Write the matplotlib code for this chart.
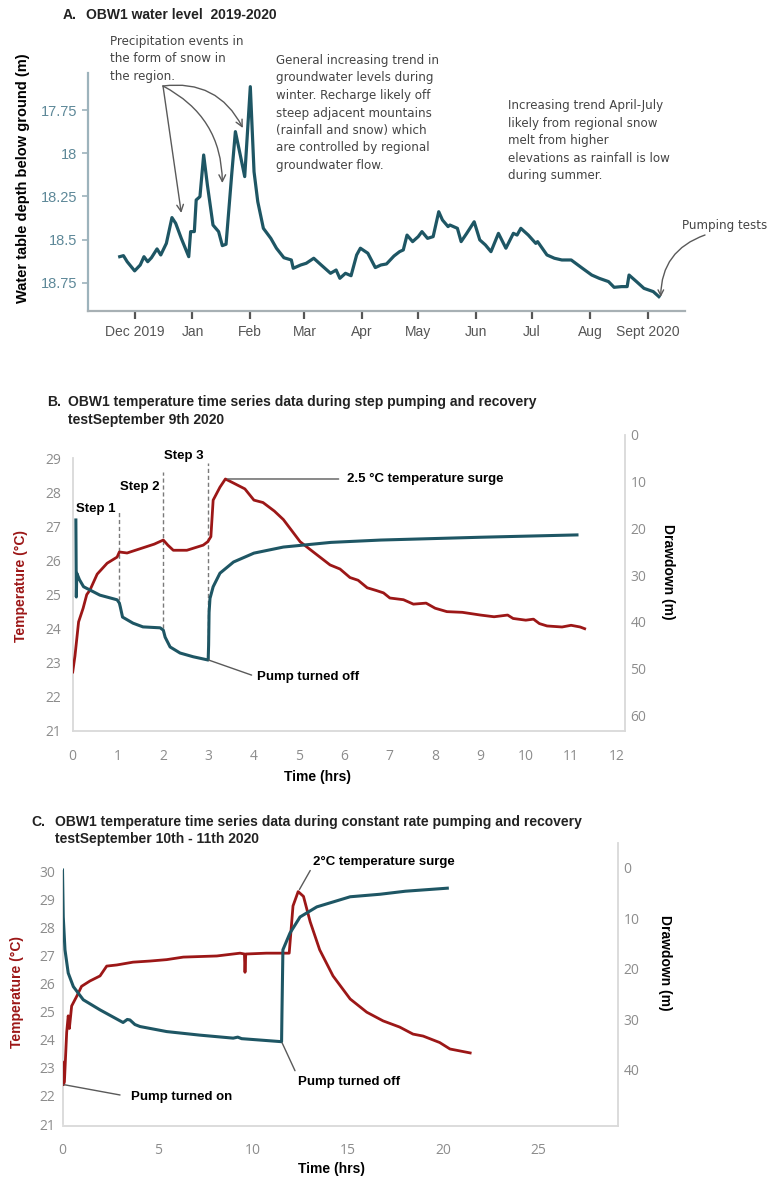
import pandas as pd
import matplotlib.pyplot as plt

# ---------------- data ----------------
# A: water table depth below ground (m)
level_dates = [
    '2019-11-23', '2019-11-25', '2019-11-27',
    '2019-12-01', '2019-12-04', '2019-12-06', '2019-12-08', '2019-12-10', '2019-12-13',
    '2019-12-15', '2019-12-18', '2019-12-21', '2019-12-23', '2019-12-26', '2019-12-30', '2019-12-31',
    '2020-01-02', '2020-01-03', '2020-01-05', '2020-01-07', '2020-01-09', '2020-01-12',
    '2020-01-15', '2020-01-17', '2020-01-19', '2020-01-22', '2020-01-24', '2020-01-27', '2020-01-29',
    '2020-02-01', '2020-02-03', '2020-02-05', '2020-02-08', '2020-02-12', '2020-02-15',
    '2020-02-19', '2020-02-23', '2020-02-24', '2020-02-28',
    '2020-03-02', '2020-03-06', '2020-03-10', '2020-03-15', '2020-03-18', '2020-03-20',
    '2020-03-23', '2020-03-26', '2020-03-29', '2020-03-31',
    '2020-04-04', '2020-04-08', '2020-04-11', '2020-04-14', '2020-04-18', '2020-04-21',
    '2020-04-23', '2020-04-25', '2020-04-28',
    '2020-05-01', '2020-05-03', '2020-05-06', '2020-05-09', '2020-05-12', '2020-05-14',
    '2020-05-17', '2020-05-18', '2020-05-22', '2020-05-24', '2020-05-27', '2020-05-31',
    '2020-06-03', '2020-06-06', '2020-06-09', '2020-06-13', '2020-06-17', '2020-06-21',
    '2020-06-23', '2020-06-25', '2020-06-29',
    '2020-07-03', '2020-07-04', '2020-07-09', '2020-07-13', '2020-07-17', '2020-07-22', '2020-07-28',
    '2020-08-02', '2020-08-06', '2020-08-11', '2020-08-14', '2020-08-18', '2020-08-21',
    '2020-08-22', '2020-08-26', '2020-08-30',
    '2020-09-04', '2020-09-07',
]
level_depth = [
    18.598, 18.592, 18.627,
    18.680, 18.646, 18.598, 18.627, 18.604, 18.553,
    18.588, 18.521, 18.372, 18.405, 18.492, 18.598, 18.453,
    18.453, 18.270, 18.251, 18.010, 18.184, 18.415,
    18.453, 18.534, 18.526, 18.126, 17.875, 18.030, 18.135,
    17.615, 18.107, 18.280, 18.434, 18.492, 18.549,
    18.604, 18.617, 18.665, 18.646,
    18.636, 18.607, 18.646, 18.694, 18.675, 18.723,
    18.694, 18.708, 18.588, 18.549,
    18.578, 18.661, 18.646, 18.640, 18.594, 18.569,
    18.559, 18.473, 18.511,
    18.482, 18.453, 18.492, 18.482, 18.338, 18.386,
    18.424, 18.415, 18.434, 18.511, 18.463, 18.396,
    18.501, 18.530, 18.569, 18.463, 18.549, 18.463,
    18.473, 18.434, 18.473,
    18.521, 18.511, 18.588, 18.607, 18.617, 18.617, 18.665,
    18.704, 18.723, 18.742, 18.775, 18.771, 18.771,
    18.704, 18.742, 18.781,
    18.800, 18.829,
]
month_ticks = ['2019-12-01', '2020-01-01', '2020-02-01', '2020-03-01', '2020-04-01',
               '2020-05-01', '2020-06-01', '2020-07-01', '2020-08-01', '2020-09-01']
month_labels = ['Dec 2019', 'Jan', 'Feb', 'Mar', 'Apr', 'May', 'Jun', 'Jul', 'Aug', 'Sept 2020']
depth_ticks = [17.75, 18.0, 18.25, 18.5, 18.75]
depth_labels = ['17.75', '18', '18.25', '18.5', '18.75']

# B: step test, temperature (degC) and drawdown (m) against time (hrs)
step_temp_t = [0.0, 0.05, 0.13, 0.23, 0.31, 0.38, 0.54, 0.76, 0.98, 1.03, 1.2, 1.5, 1.8, 2.0,
               2.1, 2.22, 2.52, 2.88, 2.98, 3.05, 3.1, 3.25, 3.37, 3.55, 3.8, 4.0, 4.2, 4.45,
               4.65, 5.02, 5.31, 5.68, 5.9, 6.12, 6.3, 6.5, 6.7, 6.86, 7.0, 7.3, 7.52, 7.8,
               8.0, 8.26, 8.6, 9.0, 9.3, 9.6, 9.72, 10.0, 10.17, 10.3, 10.47, 10.8, 11.0,
               11.2, 11.3]
step_temp = [22.73, 23.2, 24.2, 24.6, 25.0, 25.13, 25.6, 25.92, 26.1, 26.25, 26.22, 26.35,
             26.48, 26.6, 26.45, 26.3, 26.3, 26.45, 26.55, 26.7, 27.77, 28.15, 28.39, 28.27,
             28.1, 27.77, 27.7, 27.45, 27.2, 26.55, 26.25, 25.87, 25.75, 25.5, 25.42, 25.2,
             25.12, 25.05, 24.9, 24.85, 24.72, 24.75, 24.6, 24.5, 24.48, 24.4, 24.35, 24.4,
             24.3, 24.25, 24.28, 24.15, 24.08, 24.05, 24.1, 24.05, 24.0]
step_dd_t = [0.07, 0.08, 0.09, 0.15, 0.24, 0.6, 0.98, 1.03, 1.05, 1.1, 1.33, 1.55, 1.93, 2.0,
             2.04, 2.15, 2.37, 2.66, 2.99, 3.0, 3.01, 3.03, 3.1, 3.25, 3.55, 4.0, 4.65, 5.7,
             6.8, 9.0, 11.13]
step_dd = [18.2, 34.7, 29.6, 31.0, 32.5, 34.3, 35.3, 36.0, 36.8, 39.0, 40.3, 41.1, 41.3, 41.8,
           43.3, 45.4, 46.7, 47.5, 48.2, 45.0, 38.0, 35.0, 32.5, 29.6, 27.2, 25.3, 24.0, 23.0,
           22.5, 21.9, 21.4]
step_times = [1.03, 2.0, 2.99]
step_names = ['Step 1', 'Step 2', 'Step 3']
step_label_temp = [27.51, 28.16, 29.06]
step_line_top = [27.48, 28.6, 28.86]
step_line_bottom = [24.84, 24.02, 23.08]

# C: constant rate test
const_temp_t = [0.0, 0.05, 0.1, 0.22, 0.3, 0.36, 0.48, 0.75, 1.0, 1.44, 1.97, 2.32, 2.85, 3.7,
                4.6, 5.47, 6.34, 8.1, 9.32, 9.55, 9.58, 9.62, 10.7, 11.9, 11.95, 12.1, 12.37,
                12.65, 13.0, 13.5, 14.2, 15.1, 15.97, 16.83, 17.7, 18.4, 18.93, 19.8, 20.34,
                21.4]
const_temp = [23.2, 22.4, 22.5, 24.27, 24.85, 24.4, 25.2, 25.55, 25.9, 26.09, 26.27, 26.62,
              26.66, 26.76, 26.8, 26.85, 26.94, 26.98, 27.08, 27.05, 26.4, 27.05, 27.08, 27.08,
              27.5, 28.76, 29.27, 29.1, 28.2, 27.2, 26.27, 25.45, 24.98, 24.67, 24.45, 24.2,
              24.13, 23.9, 23.67, 23.53]
const_dd_t = [0.0, 0.04, 0.13, 0.3, 0.57, 1.09, 1.97, 3.18, 3.4, 3.54, 3.8, 4.07, 5.47, 7.2,
              8.96, 9.2, 9.4, 11.5, 11.52, 11.57, 11.94, 12.47, 13.35, 15.1, 16.67, 18.0, 20.2]
const_dd = [0.4, 9.7, 16.2, 20.8, 23.5, 26.1, 28.1, 30.6, 30.0, 30.1, 31.0, 31.4, 32.4, 33.1,
            33.7, 33.5, 33.8, 34.4, 28.7, 16.2, 12.9, 9.7, 7.7, 5.7, 5.2, 4.6, 4.0]

# ---------------- styling ----------------
W, H = 777, 1179
TEAL = '#1e5664'
RED = '#9c1717'
FRAME = '#d9d9d9'
TICK_GREY = '#8c8c8c'
NOTE = '#444444'
LINE = '#5a5a5a'
BOLD_FONT = 'Liberation Sans'


def fpos(x, y):
    """pixel position (from top-left) -> figure fraction"""
    return (x / W, 1 - y / H)


def axes_box(left, top, right, bottom):
    return [left / W, 1 - bottom / H, (right - left) / W, (bottom - top) / H]


def place_label(ax, axis, box, x, y):
    """put an axis label centred on a pixel position"""
    left, top, right, bottom = box
    lab = ax.xaxis if axis == 'x' else ax.yaxis
    lab.set_label_coords((x - left) / (right - left), (bottom - y) / (bottom - top))
    lab.label.set_va('center')
    lab.label.set_ha('center')


fig = plt.figure(figsize=(W / 100, H / 100), dpi=100)

# ================= A. water level =================
box_a = (88, 73, 685, 311)
ax_a = fig.add_axes(axes_box(*box_a))
ax_a.plot(pd.to_datetime(level_dates), level_depth, color=TEAL, lw=2.3,
          solid_joinstyle='round')
ax_a.set_xlim(pd.Timestamp('2019-11-06'), pd.Timestamp('2020-09-21'))
ax_a.set_ylim(18.912, 17.536)
ax_a.set_yticks(depth_ticks)
ax_a.set_yticklabels(depth_labels, fontsize=10.5, color='#5d8898', family=BOLD_FONT)
ax_a.set_xticks(pd.to_datetime(month_ticks))
ax_a.set_xticklabels(month_labels, fontsize=10, color='#555555', family=BOLD_FONT)
ax_a.tick_params(axis='y', length=4, width=1.2, color='#9db3bc', pad=4)
ax_a.tick_params(axis='x', length=6, width=1.6, color='#555555', pad=4)
for s in ['top', 'right']:
    ax_a.spines[s].set_visible(False)
ax_a.spines['left'].set_color('#9db3bc')
ax_a.spines['left'].set_linewidth(1.6)
ax_a.spines['bottom'].set_color('#a7b0b4')
ax_a.spines['bottom'].set_linewidth(1.6)
ax_a.set_ylabel('Water table depth below ground (m)', fontsize=10.5, fontweight='bold',
                family=BOLD_FONT)
place_label(ax_a, 'y', box_a, 23, 178)

fig.text(*fpos(63, 15), 'A.', fontsize=10, fontweight='bold', family=BOLD_FONT,
         va='center', color='#222222')
fig.text(*fpos(86, 15), 'OBW1 water level  2019-2020', fontsize=10, fontweight='bold',
         family=BOLD_FONT, va='center', color='#222222')

fig.text(*fpos(110, 35), 'Precipitation events in\nthe form of snow in\nthe region.',
         fontsize=8.6, color=NOTE, va='top', linespacing=1.45)
fig.text(*fpos(276, 54), 'General increasing trend in\ngroundwater levels during\n'
         'winter. Recharge likely off\nsteep adjacent mountains\n(rainfall and snow) which\n'
         'are controlled by regional\ngroundwater flow.',
         fontsize=8.6, color=NOTE, va='top', linespacing=1.45)
fig.text(*fpos(508, 99), 'Increasing trend April-July\nlikely from regional snow\n'
         'melt from higher\nelevations as rainfall is low\nduring summer.',
         fontsize=8.6, color=NOTE, va='top', linespacing=1.45)
fig.text(*fpos(682, 225), 'Pumping tests', fontsize=8.6, color=NOTE, va='center')

# arrows to the snow events
snow_targets = [('2019-12-26', 18.345, 0.0), ('2020-01-17', 18.172, -0.3),
                ('2020-01-28', 17.854, -0.35)]
for d, depth, rad in snow_targets:
    ax_a.annotate('', xy=(pd.Timestamp(d), depth), xytext=fpos(163, 86),
                  textcoords='figure fraction', annotation_clip=False,
                  arrowprops=dict(arrowstyle='->', color=LINE, lw=1.0,
                                  connectionstyle=f'arc3,rad={rad}',
                                  shrinkA=0, shrinkB=0, mutation_scale=12))
ax_a.annotate('', xy=(pd.Timestamp('2020-09-08'), 18.831), xytext=fpos(705, 235),
              textcoords='figure fraction', annotation_clip=False,
              arrowprops=dict(arrowstyle='->', color=LINE, lw=1.0,
                              connectionstyle='arc3,rad=0.35',
                              shrinkA=0, shrinkB=0, mutation_scale=10))


def excel_axes(box, xlim, ylim_left, ylim_right, left_bounds, xticks, yticks_left,
               yticks_right):
    ax = fig.add_axes(axes_box(*box))
    ax2 = ax.twinx()
    ax.set_xlim(*xlim)
    ax.set_ylim(*ylim_left)
    ax2.set_ylim(*ylim_right)
    ax.set_xticks(xticks)
    ax.set_yticks(yticks_left)
    ax2.set_yticks(yticks_right)
    for a in (ax, ax2):
        for s in a.spines.values():
            s.set_color(FRAME)
            s.set_linewidth(1.3)
        a.spines['top'].set_visible(False)
        a.tick_params(length=0, labelsize=10, labelcolor=TICK_GREY)
        for lab in a.get_xticklabels() + a.get_yticklabels():
            lab.set_family('Open Sans')
    ax.spines['right'].set_visible(False)
    ax2.spines['left'].set_visible(False)
    ax2.spines['bottom'].set_visible(False)
    ax.spines['left'].set_bounds(*left_bounds)
    ax.patch.set_visible(False)
    return ax, ax2


# ================= B. step test =================
box_b = (72.7, 435, 625, 731)
ax_b, ax_b2 = excel_axes(box_b, (0, 12.19), (21, 29.68), (63.4, 0),
                         (21, 29), range(0, 13), range(21, 30), range(0, 61, 10))
ax_b.tick_params(axis='x', pad=13)
ax_b.tick_params(axis='y', pad=8)
ax_b2.tick_params(axis='y', pad=4)
ax_b2.plot(step_dd_t, step_dd, color=TEAL, lw=2.2, zorder=2)
ax_b.plot(step_temp_t, step_temp, color=RED, lw=2.0, zorder=3)

for t, name, ly, top, bottom in zip(step_times, step_names, step_label_temp, step_line_top,
                                    step_line_bottom):
    ax_b.plot([t, t], [bottom, top], color='#7a7a7a', lw=1.0, ls=(0, (3, 2)))
    ax_b.annotate(name, xy=(t, ly), xytext=(-3, 0), textcoords='offset points',
                  ha='right', va='center', fontsize=9.5, fontweight='bold', family=BOLD_FONT,
                  annotation_clip=False)

ax_b.annotate('2.5 °C temperature surge', xy=(3.42, 28.39), xytext=fpos(347, 479),
              textcoords='figure fraction', ha='left', va='center', fontsize=9.5,
              fontweight='bold', family=BOLD_FONT,
              arrowprops=dict(arrowstyle='-', color=LINE, lw=1.0, relpos=(0, 0.5),
                              shrinkA=4, shrinkB=0))
ax_b2.annotate('Pump turned off', xy=(3.0, 48.2), xytext=fpos(257, 677),
               textcoords='figure fraction', ha='left', va='center', fontsize=9.5,
               fontweight='bold', family=BOLD_FONT,
               arrowprops=dict(arrowstyle='-', color=LINE, lw=1.0, relpos=(0, 0.5),
                               shrinkA=2, shrinkB=0))

ax_b.set_xlabel('Time (hrs)', fontsize=10, fontweight='bold', family=BOLD_FONT)
place_label(ax_b, 'x', box_b, 317.5, 777)
ax_b.set_ylabel('Temperature (°C)', fontsize=10, fontweight='bold', family=BOLD_FONT,
                color=RED)
place_label(ax_b, 'y', box_b, 21, 586)
ax_b2.set_ylabel('Drawdown (m)', fontsize=10, fontweight='bold', family=BOLD_FONT,
                 rotation=-90)
place_label(ax_b2, 'y', box_b, 668, 572)

fig.text(*fpos(47, 402), 'B.', fontsize=10, fontweight='bold', family=BOLD_FONT,
         va='center', color='#222222')
fig.text(*fpos(68, 402), 'OBW1 temperature time series data during step pumping and recovery',
         fontsize=10, fontweight='bold', family=BOLD_FONT, va='center', color='#222222')
fig.text(*fpos(68, 420), 'testSeptember 9th 2020', fontsize=10, fontweight='bold',
         family=BOLD_FONT, va='center', color='#222222')

# ================= C. constant rate test =================
box_c = (62.5, 843, 618, 1126)
ax_c, ax_c2 = excel_axes(box_c, (0, 29.16), (20.93, 31.0),
                         (51.1, -4.95), (21, 30), range(0, 30, 5), range(21, 31),
                         range(0, 41, 10))
ax_c.tick_params(axis='x', pad=12)
ax_c.tick_params(axis='y', pad=5)
ax_c2.tick_params(axis='y', pad=4)
ax_c2.plot(const_dd_t, const_dd, color=TEAL, lw=2.2, zorder=2)
ax_c.plot(const_temp_t, const_temp, color=RED, lw=2.0, zorder=3)

ax_c.annotate('2°C temperature surge', xy=(12.4, 29.3), xytext=fpos(313, 862),
              textcoords='figure fraction', ha='left', va='center', fontsize=9.5,
              fontweight='bold', family=BOLD_FONT,
              arrowprops=dict(arrowstyle='-', color=LINE, lw=1.0, relpos=(0.0, 0.2),
                              shrinkA=0, shrinkB=1))
ax_c2.annotate('Pump turned off', xy=(11.5, 34.4), xytext=fpos(298, 1082),
               textcoords='figure fraction', ha='left', va='center', fontsize=9.5,
               fontweight='bold', family=BOLD_FONT,
               arrowprops=dict(arrowstyle='-', color=LINE, lw=1.0, relpos=(0.0, 0.9),
                               shrinkA=2, shrinkB=1))
ax_c.annotate('Pump turned on', xy=(0.08, 22.4), xytext=fpos(131, 1097),
              textcoords='figure fraction', ha='left', va='center', fontsize=9.5,
              fontweight='bold', family=BOLD_FONT,
              arrowprops=dict(arrowstyle='-', color=LINE, lw=1.0, relpos=(0.0, 0.5),
                              shrinkA=6, shrinkB=0))

ax_c.set_xlabel('Time (hrs)', fontsize=10, fontweight='bold', family=BOLD_FONT)
place_label(ax_c, 'x', box_c, 332, 1169)
ax_c.set_ylabel('Temperature (°C)', fontsize=10, fontweight='bold', family=BOLD_FONT,
                color=RED)
place_label(ax_c, 'y', box_c, 17, 992)
ax_c2.set_ylabel('Drawdown (m)', fontsize=10, fontweight='bold', family=BOLD_FONT,
                 rotation=-90)
place_label(ax_c2, 'y', box_c, 665, 963)

fig.text(*fpos(31, 822), 'C.', fontsize=10, fontweight='bold', family=BOLD_FONT,
         va='center', color='#222222')
fig.text(*fpos(55, 822), 'OBW1 temperature time series data during constant rate pumping '
         'and recovery', fontsize=10, fontweight='bold', family=BOLD_FONT, va='center',
         color='#222222')
fig.text(*fpos(55, 839), 'testSeptember 10th - 11th 2020', fontsize=10, fontweight='bold',
         family=BOLD_FONT, va='center', color='#222222')

fig.savefig('out.png', dpi=100)
